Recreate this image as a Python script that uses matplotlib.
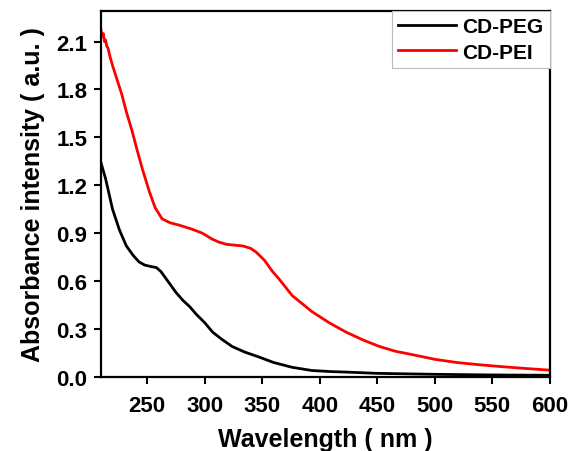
import matplotlib.pyplot as plt

plt.rcParams['font.family'] = ['Liberation Sans', 'DejaVu Sans']
plt.rcParams['font.weight'] = 'bold'

# CD-PEG (black)
peg_wl = [210, 214, 220, 226, 232, 238, 243, 248, 254, 258, 262, 266, 270, 275, 281, 287,
          293, 300, 307, 315, 324, 335, 347, 360, 376, 393, 410, 423, 450, 500, 550, 600]
peg_abs = [1.34, 1.24, 1.05, 0.92, 0.82, 0.76, 0.72, 0.70, 0.69, 0.685, 0.66, 0.62, 0.58, 0.53,
           0.48, 0.44, 0.39, 0.34, 0.28, 0.235, 0.19, 0.155, 0.125, 0.09, 0.06, 0.04, 0.033,
           0.03, 0.022, 0.016, 0.012, 0.01]

# CD-PEI (red)
pei_wl = [210, 211, 212, 213, 214, 215, 216, 218, 220, 224, 228, 232, 237, 241, 246, 252, 257,
          263, 270, 278, 289, 298, 306, 312, 319, 326, 333, 340, 345, 352, 359, 365, 376, 393,
          408, 423, 438, 452, 466, 480, 500, 519, 540, 560, 580, 600]
pei_abs = [2.17, 2.13, 2.15, 2.10, 2.11, 2.07, 2.06, 2.00, 1.95, 1.86, 1.77, 1.66, 1.54, 1.43,
           1.30, 1.16, 1.06, 0.99, 0.965, 0.95, 0.925, 0.90, 0.865, 0.845, 0.83, 0.825, 0.82,
           0.805, 0.78, 0.73, 0.66, 0.61, 0.51, 0.41, 0.34, 0.28, 0.23, 0.19, 0.16, 0.14,
           0.11, 0.09, 0.075, 0.063, 0.052, 0.042]

fig = plt.figure(figsize=(5.74, 4.52), dpi=100)
ax = fig.add_axes([0.176, 0.164, 0.782, 0.809])

ax.plot(peg_wl, peg_abs, color='black', lw=2, label='CD-PEG')
ax.plot(pei_wl, pei_abs, color='red', lw=2, label='CD-PEI')

ax.set_xlim(210, 600)
ax.set_ylim(0, 2.29)
ax.set_xticks([250, 300, 350, 400, 450, 500, 550, 600])
ax.set_yticks([0.0, 0.3, 0.6, 0.9, 1.2, 1.5, 1.8, 2.1])
ax.yaxis.set_major_formatter(plt.FormatStrFormatter('%.1f'))
ax.tick_params(direction='out', length=5, width=1.5, labelsize=16, pad=5)
ax.tick_params(axis='x', pad=8)
for s in ax.spines.values():
    s.set_linewidth(1.6)

ax.set_xlabel('Wavelength ( nm )', fontsize=18, fontweight='bold', labelpad=8)
ax.set_ylabel('Absorbance intensity ( a.u. )', fontsize=18, fontweight='bold', labelpad=8)

leg = ax.legend(loc='upper right', borderaxespad=0, fancybox=False, fontsize=15,
                handlelength=2.8, handletextpad=0.3, borderpad=0.3, labelspacing=0.3,
                framealpha=1)
leg.get_frame().set_edgecolor('#bbbbbb')
leg.get_frame().set_linewidth(0.8)

fig.savefig('out.png', dpi=100)
